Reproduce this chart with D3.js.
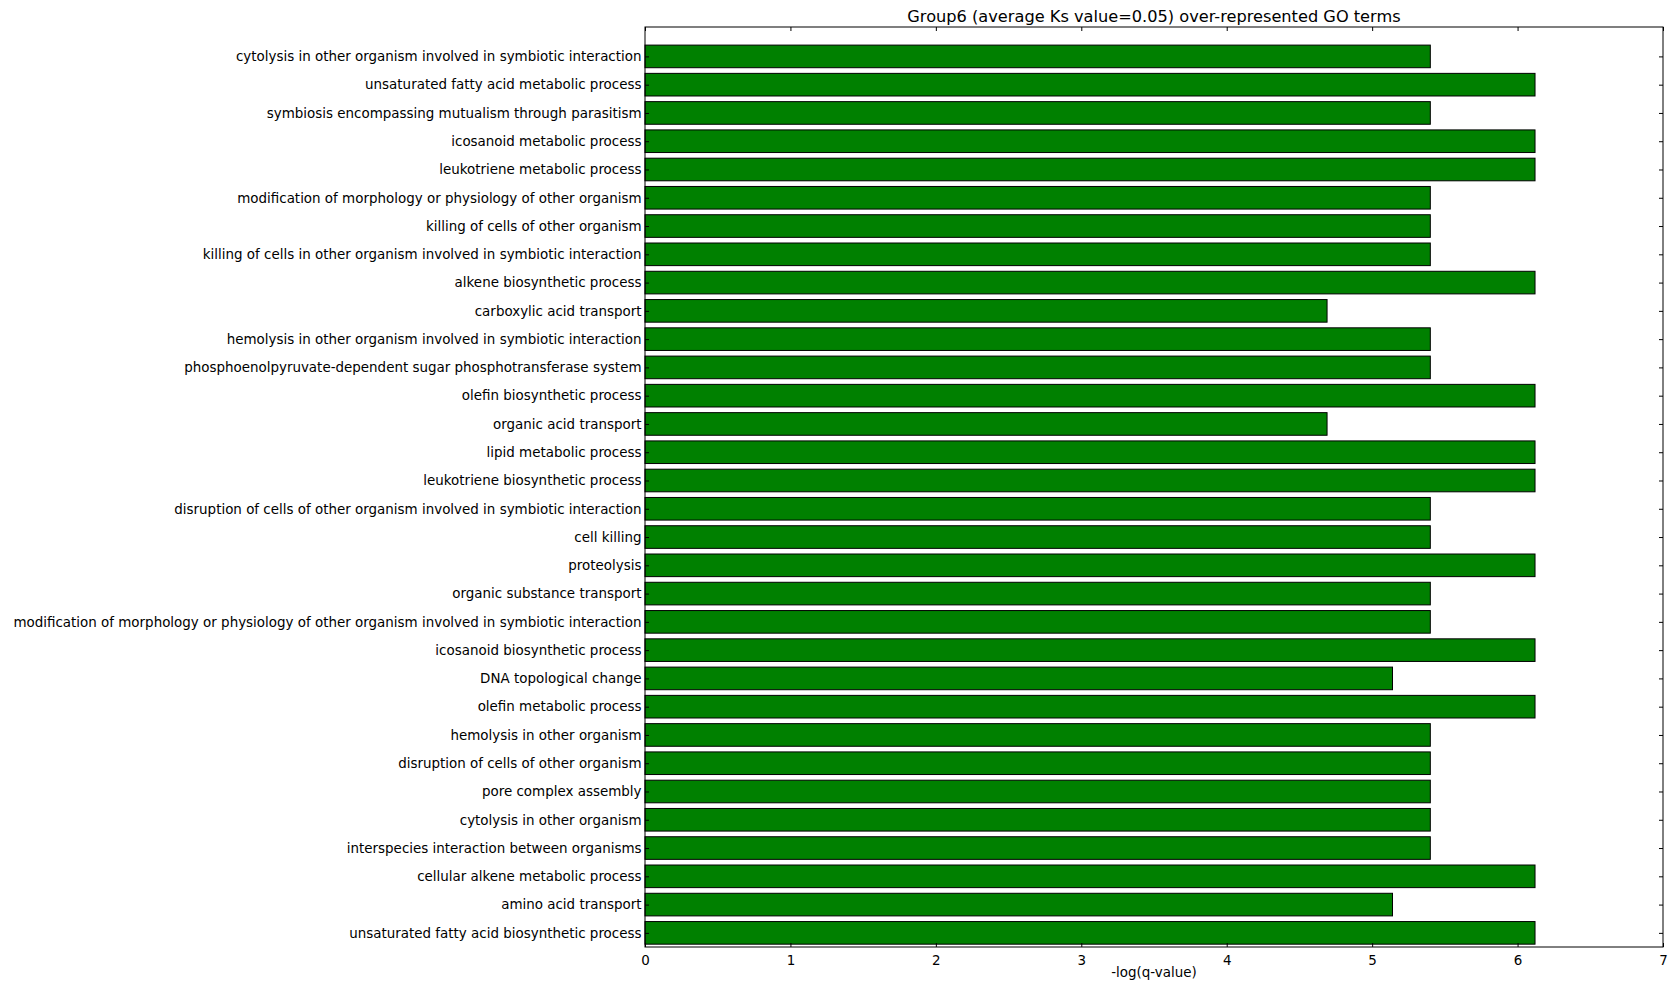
<!DOCTYPE html>
<html>
<head>
<meta charset="utf-8">
<script src="https://cdn.jsdelivr.net/npm/d3@7"></script>
<style>
  html, body { margin: 0; padding: 0; background: #ffffff; }
  svg { display: block; }
  text { font-family: "DejaVu Sans", sans-serif; fill: #000; }
</style>
</head>
<body>
<svg id="chart" width="1672" height="984"></svg>
<script>
// GO terms, listed top to bottom
const terms = [
  "cytolysis in other organism involved in symbiotic interaction",
  "unsaturated fatty acid metabolic process",
  "symbiosis encompassing mutualism through parasitism",
  "icosanoid metabolic process",
  "leukotriene metabolic process",
  "modification of morphology or physiology of other organism",
  "killing of cells of other organism",
  "killing of cells in other organism involved in symbiotic interaction",
  "alkene biosynthetic process",
  "carboxylic acid transport",
  "hemolysis in other organism involved in symbiotic interaction",
  "phosphoenolpyruvate-dependent sugar phosphotransferase system",
  "olefin biosynthetic process",
  "organic acid transport",
  "lipid metabolic process",
  "leukotriene biosynthetic process",
  "disruption of cells of other organism involved in symbiotic interaction",
  "cell killing",
  "proteolysis",
  "organic substance transport",
  "modification of morphology or physiology of other organism involved in symbiotic interaction",
  "icosanoid biosynthetic process",
  "DNA topological change",
  "olefin metabolic process",
  "hemolysis in other organism",
  "disruption of cells of other organism",
  "pore complex assembly",
  "cytolysis in other organism",
  "interspecies interaction between organisms",
  "cellular alkene metabolic process",
  "amino acid transport",
  "unsaturated fatty acid biosynthetic process"
];

// -log(q-value) for each term, same order
const scores = [
  5.40, 6.12, 5.40, 6.12, 6.12, 5.40, 5.40, 5.40,
  6.12, 4.69, 5.40, 5.40, 6.12, 4.69, 6.12, 6.12,
  5.40, 5.40, 6.12, 5.40, 5.40, 6.12, 5.14, 6.12,
  5.40, 5.40, 5.40, 5.40, 5.40, 6.12, 5.14, 6.12
];

const xTicks = [0, 1, 2, 3, 4, 5, 6, 7];
const titleText = "Group6 (average Ks value=0.05) over-represented GO terms";
const xLabelText = "-log(q-value)";

const plot = { left: 645, right: 1663, top: 27, bottom: 947 };
const n = terms.length;
const labelSize = 13.45;

const svg = d3.select("#chart");

const x = d3.scaleLinear().domain([0, 7]).range([plot.left, plot.right]);
// row index counted from the bottom; row centres sit on integers
const y = d3.scaleLinear().domain([-0.5, n + 0.04]).range([plot.bottom, plot.top]);
const barH = 0.8;

const rows = terms.map((t, i) => ({ term: t, value: scores[i], pos: n - 1 - i }));

// bars
svg.append("g").selectAll("rect")
  .data(rows)
  .join("rect")
  .attr("x", x(0))
  .attr("y", d => y(d.pos + barH / 2))
  .attr("width", d => x(d.value) - x(0))
  .attr("height", d => y(d.pos - barH / 2) - y(d.pos + barH / 2))
  .attr("fill", "#008000")
  .attr("stroke", "#000")
  .attr("stroke-width", 1);

// frame
svg.append("rect")
  .attr("x", plot.left).attr("y", plot.top)
  .attr("width", plot.right - plot.left).attr("height", plot.bottom - plot.top)
  .attr("fill", "none").attr("stroke", "#000").attr("stroke-width", 1);

const tickLen = 4;

// bottom axis with inward ticks
const xAxis = d3.axisBottom(x).tickValues(xTicks).tickFormat(d3.format("d"))
  .tickSizeInner(-tickLen).tickSizeOuter(0).tickPadding(8);
const gx = svg.append("g").attr("transform", `translate(0,${plot.bottom})`).call(xAxis);
gx.select(".domain").remove();
gx.selectAll("text").attr("font-size", labelSize).attr("font-family", "DejaVu Sans").attr("fill", "#000");

// top ticks
const gxTop = svg.append("g").attr("transform", `translate(0,${plot.top})`)
  .call(d3.axisTop(x).tickValues(xTicks).tickSizeInner(-tickLen).tickSizeOuter(0).tickFormat(""));
gxTop.select(".domain").remove();

// left axis with term labels
const yAxis = d3.axisLeft(y).tickValues(rows.map(d => d.pos))
  .tickFormat(p => rows.find(r => r.pos === p).term)
  .tickSizeInner(-tickLen).tickSizeOuter(0).tickPadding(3.5);
const gy = svg.append("g").attr("transform", `translate(${plot.left},0)`).call(yAxis);
gy.select(".domain").remove();
gy.selectAll("text").attr("font-size", labelSize).attr("font-family", "DejaVu Sans").attr("fill", "#000");

// right ticks
const gyR = svg.append("g").attr("transform", `translate(${plot.right},0)`)
  .call(d3.axisRight(y).tickValues(rows.map(d => d.pos)).tickSizeInner(-tickLen).tickSizeOuter(0).tickFormat(""));
gyR.select(".domain").remove();

svg.selectAll(".tick line").attr("stroke", "#000");

// title and axis label
svg.append("text")
  .attr("x", (plot.left + plot.right) / 2).attr("y", 21.5)
  .attr("text-anchor", "middle").attr("font-size", 16.2)
  .text(titleText);

svg.append("text")
  .attr("x", (plot.left + plot.right) / 2).attr("y", 977)
  .attr("text-anchor", "middle").attr("font-size", labelSize)
  .text(xLabelText);
</script>
</body>
</html>
